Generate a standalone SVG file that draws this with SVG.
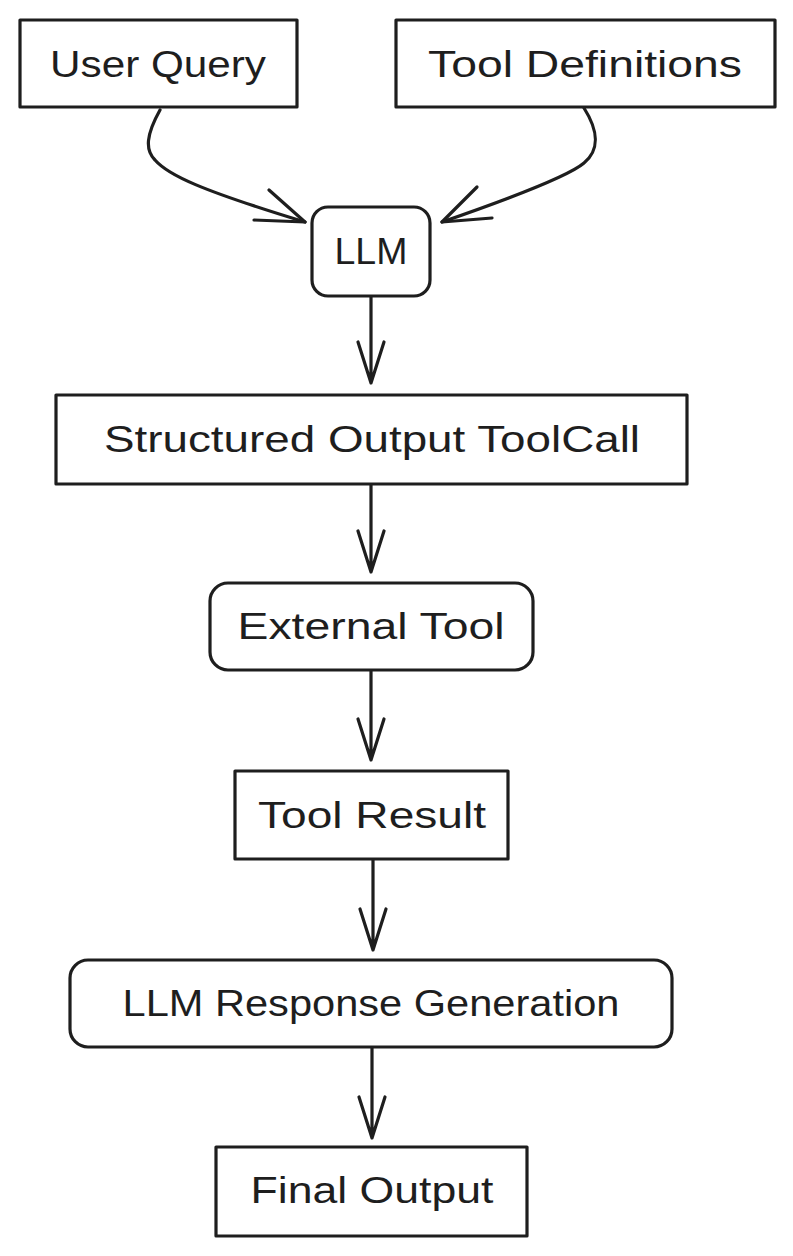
<svg xmlns="http://www.w3.org/2000/svg" width="793" height="1256" viewBox="0 0 793 1256">
  <style>
    .box { fill: #ffffff; stroke: #1e1e1e; stroke-width: 3.2; stroke-linejoin: round; }
    .lbl { font-family: "Liberation Sans", "DejaVu Sans", sans-serif; font-size: 36px; fill: #1e1e1e; text-anchor: middle; }
    .edge { fill: none; stroke: #1e1e1e; stroke-width: 3.2; stroke-linecap: round; stroke-linejoin: round; }
  </style>
  <rect width="793" height="1256" fill="#ffffff"/>
  <g id="connectors">
    <path class="edge" d="M160,110 C146,135 145,150 155,160 C168,175 200,190 305,222"/>
    <path class="edge" d="M269,190 L305,222 L254,220"/>
    <path class="edge" d="M584,108 C598,130 600,150 584,163 C570,175 520,195 442,222"/>
    <path class="edge" d="M477,187 L442,222 L492,218"/>
    <path class="edge" d="M371,297 L371,383 M358,342 L371,383 L384,342"/>
    <path class="edge" d="M371,485 L371,572 M358,531 L371,572 L384,531"/>
    <path class="edge" d="M371,671 L371,760 M358,719 L371,760 L384,719"/>
    <path class="edge" d="M373,860 L373,950 M360,909 L373,950 L386,909"/>
    <path class="edge" d="M372,1048 L372,1138 M359,1097 L372,1138 L385,1097"/>
  </g>
  <g id="user-query">
    <rect class="box" x="20" y="20" width="277" height="87"/>
    <text class="lbl" x="158" y="77" textLength="216" lengthAdjust="spacingAndGlyphs">User Query</text>
  </g>
  <g id="tool-definitions">
    <rect class="box" x="396" y="20" width="379" height="87"/>
    <text class="lbl" x="585" y="77" textLength="314" lengthAdjust="spacingAndGlyphs">Tool Definitions</text>
  </g>
  <g id="llm">
    <rect class="box" x="312" y="207" width="118" height="89" rx="16"/>
    <text class="lbl" x="371" y="264" textLength="73" lengthAdjust="spacingAndGlyphs">LLM</text>
  </g>
  <g id="structured-output">
    <rect class="box" x="56" y="395" width="631" height="89"/>
    <text class="lbl" x="372" y="452" textLength="536" lengthAdjust="spacingAndGlyphs">Structured Output ToolCall</text>
  </g>
  <g id="external-tool">
    <rect class="box" x="210" y="583" width="323" height="87" rx="18"/>
    <text class="lbl" x="371" y="639" textLength="267" lengthAdjust="spacingAndGlyphs">External Tool</text>
  </g>
  <g id="tool-result">
    <rect class="box" x="235" y="771" width="273" height="88"/>
    <text class="lbl" x="372" y="828" textLength="228" lengthAdjust="spacingAndGlyphs">Tool Result</text>
  </g>
  <g id="llm-response-generation">
    <rect class="box" x="70" y="960" width="602" height="87" rx="18"/>
    <text class="lbl" x="371" y="1016" textLength="497" lengthAdjust="spacingAndGlyphs">LLM Response Generation</text>
  </g>
  <g id="final-output">
    <rect class="box" x="216" y="1147" width="311" height="89"/>
    <text class="lbl" x="372" y="1203" textLength="243" lengthAdjust="spacingAndGlyphs">Final Output</text>
  </g>
</svg>
